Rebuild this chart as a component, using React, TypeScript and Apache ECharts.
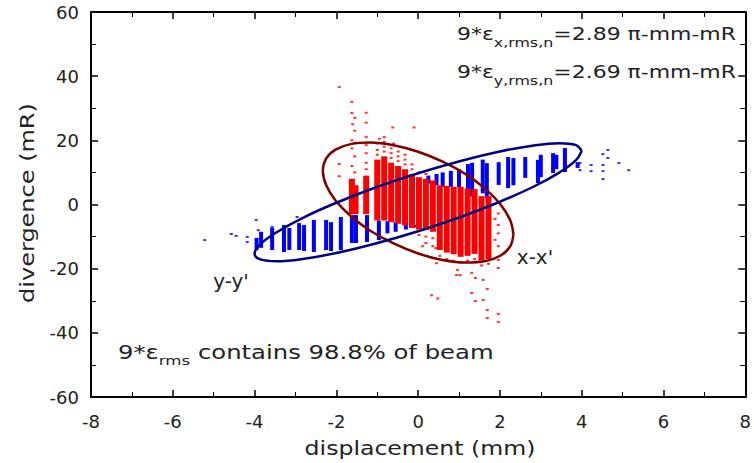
import React, { useEffect, useRef } from 'react';
import * as echarts from 'echarts';

// ---- data ----
const xTicks = { min: -8, max: 8, step: 2 };
const yTicks = { min: -60, max: 60, step: 20 };

// x-x' phase space: dense red columns [x (mm), low (mR), high (mR)]
const redColumns = [
  [-1.62, -3.0, 8.0],
  [-1.53, -3.0, 6.0],
  [-1.27, -3.0, 9.0],
  [-1.0, -5.0, 14.0],
  [-0.83, -5.0, 15.0],
  [-0.66, -5.5, 13.0],
  [-0.49, -6.0, 12.0],
  [-0.32, -6.5, 11.0],
  [-0.15, -7.3, 9.5],
  [0.02, -7.8, 8.5],
  [0.19, -8.0, 8.0],
  [0.36, -8.5, 7.5],
  [0.53, -14.2, 6.0],
  [0.7, -15.0, 5.8],
  [0.87, -15.5, 5.5],
  [1.04, -16.3, 5.5],
  [1.21, -16.0, 5.0],
  [1.38, -15.4, 4.8],
  [1.55, -17.5, 2.6],
  [1.72, -17.0, 2.6],
];

// x-x' sparse particles [x, x']
const redPoints = [
  [-1.93, 36.6], [-1.93, 12.6], [-1.93, 8.8],
  [-1.62, 32.0], [-1.62, 28.5], [-1.55, 27.0], [-1.6, 25.0], [-1.55, 23.0], [-1.62, 20.0],
  [-1.62, 17.5], [-1.55, 15.0], [-1.62, 12.0], [-1.55, 10.0],
  [-1.27, 28.6], [-1.27, 25.5], [-1.27, 21.0], [-1.27, 18.5], [-1.27, 16.0], [-1.27, 13.0], [-1.27, 11.0],
  [-1.0, 15.5], [-1.0, 17.0], [-1.0, 19.0], [-0.95, 20.5], [-0.83, 16.5], [-0.83, 18.0], [-0.83, 19.5],
  [-0.83, 21.0], [-0.66, 14.5], [-0.66, 16.0], [-0.66, 17.5], [-0.6, 19.0], [-0.62, 24.0],
  [-0.49, 13.5], [-0.49, 15.0], [-0.49, 16.5], [-0.32, 12.5], [-0.32, 14.0], [-0.32, 15.5],
  [-0.15, 11.0], [-0.15, 12.5], [0.02, 10.0], [0.19, 9.5], [-0.1, 24.0],
  [0.02, -9.5], [0.19, -10.0], [0.19, -12.0], [0.36, -10.5], [0.36, -13.0], [0.11, -13.0], [0.43, -13.6],
  [0.53, -16.0], [0.7, -17.0], [0.87, -17.5], [1.04, -18.0], [1.21, -17.5], [1.38, -17.0], [1.55, -19.0],
  [1.72, -18.5], [0.45, -18.3], [0.94, -22.0], [0.96, -20.4], [1.03, -22.0], [1.31, -21.3], [1.31, -27.6],
  [1.4, -22.9], [1.4, -30.1], [1.59, -23.5], [1.69, -26.3], [1.59, -29.8], [1.69, -32.9], [1.69, -35.4],
  [1.96, -34.1], [1.96, -36.6], [0.33, -28.3], [0.48, -29.3],
  [1.96, -2.8], [1.96, -6.4], [1.96, -9.0], [1.96, -13.0], [1.96, -17.3], [1.96, -19.8], [1.88, -4.5], [1.88, -11.0],
];

// y-y' phase space: blue columns [y (mm), low (mR), high (mR)]
const blueColumns = [
  [-3.95, -14.2, -10.4],
  [-3.84, -13.5, -8.5],
  [-3.57, -14.2, -7.3],
  [-3.28, -14.8, -6.4],
  [-3.15, -14.2, -7.3],
  [-2.91, -14.2, -5.8],
  [-2.79, -14.5, -6.4],
  [-2.55, -14.8, -4.8],
  [-2.25, -14.2, -4.8],
  [-2.13, -14.5, -5.5],
  [-1.89, -14.2, -3.9],
  [-1.62, -12.0, -3.3],
  [-1.52, -12.0, -3.3],
  [-1.25, -11.7, -3.3],
  [-0.96, -11.1, -5.0],
  [-0.75, -9.0, -5.2],
  [-0.55, -8.5, -5.5],
  [-0.3, -7.8, -6.0],
  [-0.1, -7.2, -6.3],
  [0.25, 6.5, 9.0],
  [0.45, 6.0, 9.5],
  [0.6, 5.5, 10.0],
  [0.8, 5.5, 10.5],
  [1.0, 5.3, 11.0],
  [1.22, 1.7, 12.6],
  [1.32, 2.5, 13.0],
  [1.58, 3.5, 14.0],
  [1.68, 2.0, 12.9],
  [1.97, 6.1, 13.2],
  [2.2, 5.1, 14.8],
  [2.33, 6.0, 14.5],
  [2.62, 8.3, 14.8],
  [2.93, 6.7, 13.9],
  [3.0, 8.5, 15.5],
  [3.3, 9.8, 16.0],
  [3.38, 11.0, 15.5],
  [3.59, 10.1, 17.6],
  [3.9, 11.4, 13.2],
];

// y-y' sparse particles [y, y']
const bluePoints = [
  [-5.22, -11.1], [-4.57, -9.2], [-4.45, -9.8], [-4.18, -10.1], [-4.18, -11.7], [-3.96, -4.8],
  [-3.91, -8.0], [-3.57, -7.0], [-2.96, -3.9],
  [4.23, 12.3], [4.23, 10.4], [4.52, 15.7], [4.52, 12.3], [4.52, 10.4], [4.52, 7.9], [4.64, 17.0],
  [4.64, 14.5], [4.91, 12.9], [5.15, 10.7], [3.96, 12.9], [3.96, 10.7],
];

// 9*rms emittance ellipses, outline points
const xxEllipse = [
  [2.33, -9.31], [2.25, -4.86], [2.02, -0.05], [1.65, 4.8], [1.17, 9.38], [0.6, 13.35], [0, 16.46],
  [-0.6, 18.49], [-1.17, 19.29], [-1.65, 18.82], [-2.02, 17.11], [-2.25, 14.28], [-2.33, 10.51],
  [-2.25, 6.06], [-2.02, 1.25], [-1.65, -3.6], [-1.17, -8.17], [-0.6, -12.15], [0, -15.26],
  [0.6, -17.29], [1.17, -18.09], [1.65, -17.62], [2.02, -15.91], [2.25, -13.08], [2.33, -9.31],
];
const yyEllipse = [
  [4, 16.7], [3.86, 18.5], [3.46, 19.09], [2.83, 18.41], [2.0, 16.54], [1.04, 13.58], [0, 9.75],
  [-1.04, 5.3], [-2.0, 0.54], [-2.83, -4.21], [-3.46, -8.63], [-3.86, -12.42], [-4, -15.3],
  [-3.86, -17.1], [-3.46, -17.69], [-2.83, -17.01], [-2.0, -15.14], [-1.04, -12.18], [0, -8.35],
  [1.04, -3.9], [2.0, 0.86], [2.83, 5.61], [3.46, 10.03], [3.86, 13.82], [4, 16.7],
];

const emittanceX = '2.89';
const emittanceY = '2.69';
const beamFraction = '98.8%';

// ---- styling ----
const FONT = 'DejaVu Sans';
const TEXT = '#222';

function columnRenderer(width: number, color: string) {
  return (params: any, api: any) => {
    const x = api.value(0);
    const lo = api.value(1);
    const hi = api.value(2);
    const top = api.coord([x, hi]);
    const bot = api.coord([x, lo]);
    return {
      type: 'rect',
      shape: { x: top[0] - width / 2, y: top[1], width, height: Math.max(1, bot[1] - top[1]) },
      style: { fill: color },
    };
  };
}

function axisBase(showLabel: boolean, isX: boolean) {
  return {
    type: 'value',
    min: isX ? xTicks.min : yTicks.min,
    max: isX ? xTicks.max : yTicks.max,
    interval: isX ? xTicks.step : yTicks.step,
    axisLine: { show: true, onZero: false, lineStyle: { color: '#000', width: 2 } },
    axisTick: { show: true, inside: true, length: 7, lineStyle: { color: '#000', width: 1.5 } },
    minorTick: { show: true, splitNumber: 2, length: 5, lineStyle: { color: '#000', width: 1 } },
    splitLine: { show: false },
    minorSplitLine: { show: false },
    axisLabel: {
      show: showLabel,
      color: TEXT,
      fontSize: 18,
      fontFamily: FONT,
      margin: isX ? 15 : 12,
    },
  };
}

const subRich = {
  sub: { fontSize: 13, fontFamily: FONT, fill: TEXT, lineHeight: 13, verticalAlign: 'bottom' },
};

function textEl(x: number, y: number, text: string, fontSize: number, align: string, scaleX: number, extra: any = {}) {
  return {
    type: 'text',
    x,
    y,
    scaleX,
    silent: true,
    ...extra,
    style: {
      text,
      fontSize,
      fontFamily: FONT,
      fill: TEXT,
      align,
      textAlign: align,
      verticalAlign: 'middle',
      textVerticalAlign: 'middle',
      lineHeight: 30,
      rich: subRich,
    },
  };
}

export default function App() {
  const ref = useRef<HTMLDivElement>(null);
  useEffect(() => {
    document.body.style.margin = '0';
    const chart = echarts.init(ref.current!, null, { renderer: 'svg' });
    const option: any = {
      animation: false,
      backgroundColor: '#fff',
      grid: { left: 91, right: 5, top: 12, bottom: 66, containLabel: false },
      xAxis: [
        { ...axisBase(true, true), position: 'bottom' },
        { ...axisBase(false, true), position: 'top' },
      ],
      yAxis: [
        { ...axisBase(true, false), position: 'left' },
        { ...axisBase(false, false), position: 'right' },
      ],
      series: [
        {
          type: 'custom',
          name: 'y-y columns',
          renderItem: columnRenderer(4, '#0000ff'),
          encode: { x: 0, y: [1, 2] },
          data: blueColumns,
          clip: true,
          z: 2,
        },
        {
          type: 'scatter',
          name: 'y-y points',
          data: bluePoints,
          symbol: 'rect',
          symbolSize: [3, 2],
          itemStyle: { color: '#0000ff' },
          z: 2,
        },
        {
          type: 'custom',
          name: 'x-x columns',
          renderItem: columnRenderer(6, '#ff0000'),
          encode: { x: 0, y: [1, 2] },
          data: redColumns,
          clip: true,
          z: 3,
        },
        {
          type: 'scatter',
          name: 'x-x points',
          data: redPoints,
          symbol: 'rect',
          symbolSize: [3, 2],
          itemStyle: { color: '#ff0000' },
          z: 3,
        },
        {
          type: 'line',
          name: 'x-x ellipse',
          data: xxEllipse,
          smooth: 0.4,
          showSymbol: false,
          symbol: 'none',
          lineStyle: { color: '#800000', width: 2.5 },
          z: 4,
        },
        {
          type: 'line',
          name: 'y-y ellipse',
          data: yyEllipse,
          smooth: 0.4,
          showSymbol: false,
          symbol: 'none',
          lineStyle: { color: '#000080', width: 2.5 },
          z: 5,
        },
      ],
      graphic: {
        elements: [
          textEl(736, 34, `9*ε{sub|x,rms,n}=${emittanceX} π-mm-mR`, 18, 'right', 1.22),
          textEl(736, 72, `9*ε{sub|y,rms,n}=${emittanceY} π-mm-mR`, 18, 'right', 1.22),
          textEl(118, 352, `9*ε{sub|rms} contains ${beamFraction} of beam`, 19, 'left', 1.28),
          textEl(535, 258, "x-x'", 19, 'center', 1.05),
          textEl(231, 282, "y-y'", 19, 'center', 1.05),
          textEl(420, 448, 'displacement (mm)', 20, 'center', 1.18),
          textEl(27, 203, 'divergence (mR)', 20, 'center', 1.2, { rotation: Math.PI / 2 }),
        ],
      },
    };
    chart.setOption(option);
    return () => chart.dispose();
  }, []);
  return <div ref={ref} style={{ width: 754, height: 463 }} />;
}
